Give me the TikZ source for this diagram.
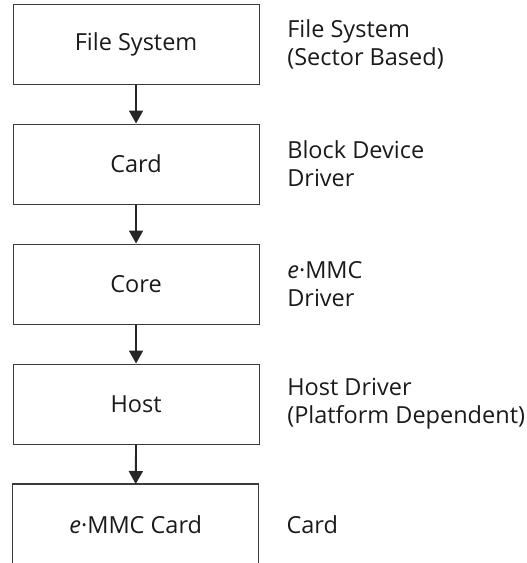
\documentclass[tikz,border=0pt]{standalone}
\usepackage{fontspec}
\setmainfont{Open Sans}
\usetikzlibrary{arrows.meta}
\definecolor{txt}{HTML}{1A1A1A}
\definecolor{edge}{HTML}{3A3A3A}
\tikzset{
  layerbox/.style={draw=edge, line width=1.1pt, minimum width=246pt, minimum height=80pt, anchor=north west, inner sep=0pt, font=\fontsize{23.5}{28}\selectfont, text=txt},
  openbox/.style={minimum width=246pt, minimum height=80pt, anchor=north west, inner sep=0pt, font=\fontsize{23.5}{28}\selectfont, text=txt},
  sidetext/.style={anchor=west, align=left, inner sep=0pt, font=\fontsize{23.5}{28}\selectfont, text=txt},
  flow/.style={draw=black!85, line width=1.9pt, -{Triangle[length=13pt,width=14pt]}}
}
\begin{document}
\begin{tikzpicture}[x=1pt,y=1pt]
\useasboundingbox (0,0) rectangle (527,-563);
\node[layerbox] (fs) at (12.5,-4) {File System};
\node[layerbox] (card) at (12.5,-123.5) {Card};
\node[layerbox] (core) at (12.5,-243.5) {Core};
\node[layerbox] (host) at (12.5,-363.5) {Host};
\node[openbox] (emmc) at (12.5,-484) {\textit{e}·MMC Card};
\draw[draw=edge, line width=1.1pt] (emmc.south west) -- (emmc.north west) -- (emmc.north east) -- (emmc.south east);
\node[sidetext] (t1) at ([xshift=27.5pt]fs.east) {File System\\(Sector Based)};
\node[sidetext] (t2) at ([xshift=27.5pt]card.east) {Block Device\\Driver};
\node[sidetext] (t3) at ([xshift=27.5pt]core.east) {\textit{e}·MMC\\Driver};
\node[sidetext] (t4) at ([xshift=27.5pt]host.east) {Host Driver\\(Platform Dependent)};
\node[sidetext] (t5) at ([xshift=27.5pt]emmc.east) {Card};
\draw[flow] (fs.south) -- (card.north);
\draw[flow] (card.south) -- (core.north);
\draw[flow] (core.south) -- (host.north);
\draw[flow] (host.south) -- (emmc.north);
\end{tikzpicture}
\end{document}
